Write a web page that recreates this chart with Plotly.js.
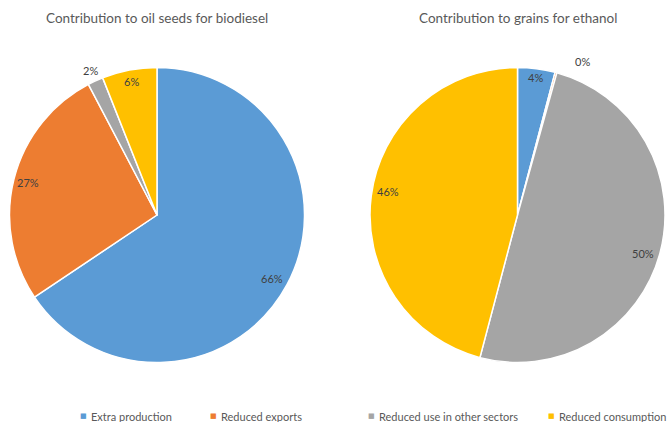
<!DOCTYPE html>
<html>
<head>
<meta charset="utf-8">
<script src="https://cdn.plot.ly/plotly-3.0.1.min.js"></script>
<style>html,body{margin:0;padding:0;background:#fff;}#chart{width:671px;height:422px;}</style>
</head>
<body>
<div id="chart"></div>
<script>
// ---- data ----
const categories = ["Extra production", "Reduced exports", "Reduced use in other sectors", "Reduced consumption"];
const oilSeedsValues = [65.6, 26.7, 1.7, 6.0];
const grainsValues = [4.1, 0.2, 49.8, 45.9];
const chartTitles = ["Contribution to oil seeds for biodiesel", "Contribution to grains for ethanol"];

// ---- style / layout ----
const colors = ["#5B9BD5", "#ED7D31", "#A5A5A5", "#FFC000"];
const W = 671, H = 422;
const FONT = "Lato, 'Open Sans', sans-serif";
const pies = [
  {cx: 157, cy: 215, r: 147.5, values: oilSeedsValues, title: chartTitles[0],
   labR: [0.89, 0.9, 1.08, 0.92], labDA: [1, 0, 0, 0]},
  {cx: 517.5, cy: 215, r: 147.5, values: grainsValues, title: chartTitles[1],
   labR: [0.94, 1.13, 0.89, 0.89], labDA: [0, 8, 2, 3]}
];
const legendSquareX = [83, 213, 371, 551];
const legendTextGap = 6;
const legendY = 416;

const px = x => x / W;
const py = y => 1 - y / H;

const traces = [];
const annotations = [];
pies.forEach((p, i) => {
  traces.push({
    type: "pie",
    labels: categories,
    values: p.values,
    sort: false,
    direction: "clockwise",
    rotation: 0,
    marker: {colors: colors, line: {color: "#ffffff", width: 1.5}},
    textinfo: "none",
    hoverinfo: "label+percent",
    showlegend: false,
    domain: {x: [px(p.cx - p.r), px(p.cx + p.r)], y: [py(p.cy + p.r), py(p.cy - p.r)]}
  });
  annotations.push({
    xref: "paper", yref: "paper", x: px(p.cx), y: py(18), text: p.title, showarrow: false,
    xanchor: "center", yanchor: "middle", font: {family: FONT, size: 13.5, color: "#595959"}
  });
  const total = p.values.reduce((a, b) => a + b, 0);
  let cum = 0;
  p.values.forEach((v, j) => {
    const mid = (cum + v / 2) / total * 360 + p.labDA[j];
    cum += v;
    const th = mid * Math.PI / 180;
    const d = p.r * p.labR[j];
    const x = p.cx + d * Math.sin(th);
    const y = p.cy - d * Math.cos(th);
    annotations.push({
      xref: "paper", yref: "paper", x: px(x), y: py(y),
      text: Math.round(v / total * 100) + "%", showarrow: false,
      xanchor: "center", yanchor: "middle", font: {family: FONT, size: 11, color: "#404040"}
    });
  });
});

categories.forEach((c, k) => {
  annotations.push({
    xref: "paper", yref: "paper", x: px(legendSquareX[k]), y: py(legendY), text: "■", showarrow: false,
    xanchor: "center", yanchor: "middle", font: {family: "DejaVu Sans", size: 7, color: colors[k]}
  });
  annotations.push({
    xref: "paper", yref: "paper", x: px(legendSquareX[k] + legendTextGap), y: py(legendY), text: c, showarrow: false,
    xanchor: "left", yanchor: "middle", font: {family: FONT, size: 11, color: "#595959"}
  });
});

const layout = {
  width: W, height: H,
  margin: {l: 0, r: 0, t: 0, b: 0},
  paper_bgcolor: "#ffffff",
  plot_bgcolor: "#ffffff",
  showlegend: false,
  annotations: annotations
};
Plotly.newPlot("chart", traces, layout, {displayModeBar: false, staticPlot: true});
</script>
</body>
</html>
